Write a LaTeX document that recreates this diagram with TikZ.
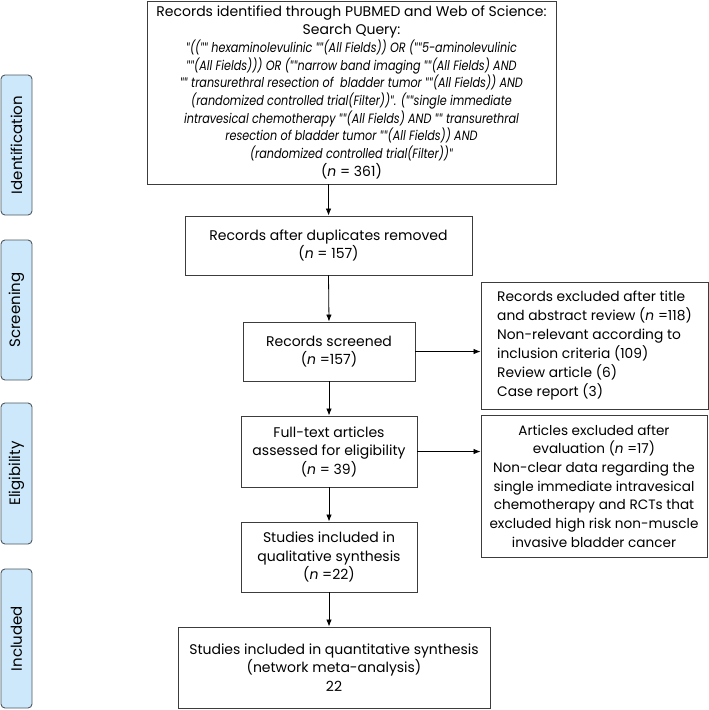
\documentclass[tikz,border=0pt]{standalone}
\usepackage{fontspec}
\usepackage{graphicx}
\setmainfont{Poppins}
\newfontfamily\qfont{Lato}
\usetikzlibrary{arrows.meta}
\definecolor{sidefill}{RGB}{204,232,250}
\definecolor{sidedraw}{RGB}{80,88,96}
\definecolor{boxdraw}{RGB}{60,60,60}
\newcommand{\qln}[1]{\scalebox{0.83}[1]{\fontsize{13.5}{17.7}\selectfont\itshape #1}}
\newcommand{\dq}{{\qfont\itshape\char"22}}
\tikzset{
  flowbox/.style={draw=boxdraw, line width=0.9pt, align=center, inner sep=2pt, font=\fontsize{14}{18.5}\selectfont},
  sidebox/.style={draw=sidedraw, fill=sidefill, rounded corners=4pt, line width=0.9pt, rotate=90, font=\fontsize{15}{18}\selectfont},
  flowarrow/.style={draw=black, line width=0.8pt, -{Latex[length=7pt,width=5.5pt]}},
}
\begin{document}
\begin{tikzpicture}[x=1pt,y=-1pt]
\useasboundingbox (0,0) rectangle (709,710);
% side labels
\node[sidebox, minimum width=140pt, minimum height=31pt] (sid) at (16.5,145) {Identification};
\node[sidebox, minimum width=140pt, minimum height=31pt] (ssc) at (16.5,310) {Screening};
\node[sidebox, minimum width=141pt, minimum height=31pt] (sel) at (16.5,473.5) {Eligibility};
\node[sidebox, minimum width=139pt, minimum height=31pt] (sin) at (16.5,638.5) {Included};
% main boxes
\node[flowbox, minimum width=409pt, minimum height=183pt, font=\fontsize{14}{17.7}\selectfont] (top) at (351.5,92.5) {Records identified through PUBMED and Web of Science:\\
Search Query:\\
\qln{\dq((\dq\dq\ hexaminolevulinic \dq\dq(All Fields)) OR (\dq\dq5-aminolevulinic}\\
\qln{\dq\dq(All Fields))) OR (\dq\dq narrow band imaging \dq\dq(All Fields) AND}\\
\qln{\dq\dq\ transurethral resection of\ \ bladder tumor \dq\dq(All Fields)) AND}\\
\qln{(randomized controlled trial(Filter))\dq. (\dq\dq single immediate}\\
\qln{intravesical chemotherapy \dq\dq(All Fields) AND \dq\dq\ transurethral}\\
\qln{resection of bladder tumor \dq\dq(All Fields)) AND}\\
\qln{(randomized controlled trial(Filter))\dq}\\
(\textit{n} = 361)};
\node[flowbox, minimum width=287pt, minimum height=59pt] (dup) at (328.5,245.5) {Records after duplicates removed\\(\textit{n} = 157)};
\node[flowbox, minimum width=172pt, minimum height=59pt] (scr) at (329,351.5) {Records screened\\(\textit{n} =157)};
\node[flowbox, minimum width=227pt, minimum height=127pt, align=left, font=\fontsize{13.8}{19}\selectfont] (ex1) at (594.5,345.5) {Records excluded after title\\and abstract review (\textit{n} =118)\\Non-relevant according to\\inclusion criteria (109)\\Review article (6)\\Case report (3)};
\node[flowbox, minimum width=176pt, minimum height=71pt] (ful) at (329,451.5) {Full-text articles\\assessed for eligibility\\(\textit{n} = 39)};
\node[flowbox, minimum width=226pt, minimum height=142pt, font=\fontsize{13.6}{18.7}\selectfont] (ex2) at (594,486) {Articles excluded after\\evaluation (\textit{n} =17)\\Non-clear data regarding the\\single immediate intravesical\\chemotherapy and RCTs that\\excluded high risk non-muscle\\invasive bladder cancer};
\node[flowbox, minimum width=176pt, minimum height=70pt] (qua) at (329,557) {Studies included in\\qualitative synthesis\\(\textit{n} =22)};
\node[flowbox, minimum width=312pt, minimum height=81pt] (qnt) at (334,667.5) {Studies included in quantitative synthesis\\(network meta-analysis)\\22};
% arrows
\draw[flowarrow] (top.south -| dup.north) -- (dup.north);
\draw[flowarrow] (dup.south) -- (scr.north);
\draw[flowarrow] (scr.south) -- (ful.north);
\draw[flowarrow] (ful.south) -- (qua.north);
\draw[flowarrow] (qua.south) -- (qua.south |- qnt.north);
\draw[flowarrow] (scr.east) -- (scr.east -| ex1.west);
\draw[flowarrow] (ful.east) -- (ful.east -| ex2.west);
\end{tikzpicture}
\end{document}
